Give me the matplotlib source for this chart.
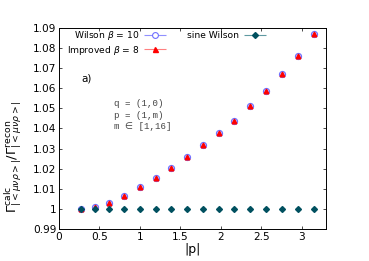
import numpy as np
import matplotlib
matplotlib.use("Agg")
import matplotlib.pyplot as plt
from matplotlib.legend_handler import HandlerErrorbar

# momenta p = (1, m), m = 1..16, on a 32 lattice
m_vals = np.arange(1, 17)
p_abs = np.pi / 16 * np.sqrt(1 + m_vals ** 2)

# ratio calc / recon
wilson = [1.0000, 1.0008, 1.0031, 1.0066, 1.0109, 1.0154, 1.0203, 1.0257,
          1.0315, 1.0376, 1.0439, 1.0510, 1.0588, 1.0669, 1.0762, 1.0868]
improved = [1.0000, 1.0008, 1.0031, 1.0066, 1.0109, 1.0154, 1.0203, 1.0257,
            1.0315, 1.0376, 1.0439, 1.0510, 1.0588, 1.0669, 1.0762, 1.0868]
sine_wilson = [1.0] * 16

fig = plt.figure(figsize=(3.69, 2.61), dpi=100)
ax = fig.add_axes([0.160, 0.123, 0.723, 0.770])

c_wil, c_wil_l = "#7070ff", "#9090ff"
c_imp, c_imp_l = "#ff0000", "#ff8080"
c_sin, c_sin_l = "#00505f", "#5f9aa2"

ax.plot(p_abs, wilson, "o", ms=4.4, mfc="#c8c8ff", mec=c_wil, mew=0.8)
ax.plot(p_abs, improved, "^", ms=3.4, color=c_imp)
ax.plot(p_abs, sine_wilson, "D", ms=3.0, color=c_sin)

# proxies for the gnuplot-like legend samples
h1 = ax.errorbar([], [], xerr=[], fmt="o", ms=4.2, mfc="white", mec=c_wil,
                 ecolor=c_wil_l, elinewidth=0.8, capsize=1.5, mew=0.8)
h2 = ax.errorbar([], [], xerr=[], fmt="^", ms=3.6, color=c_imp,
                 ecolor=c_imp_l, elinewidth=0.8, capsize=1.5)
h3 = ax.errorbar([], [], xerr=[], fmt="D", ms=3.0, color=c_sin,
                 ecolor=c_sin_l, elinewidth=0.8, capsize=1.5)
hm = {type(h1): HandlerErrorbar(xerr_size=1.2)}
leg = ax.legend([h1, h2, h3],
                [r"Wilson $\beta$ = 10", r"Improved $\beta$ = 8", "sine Wilson"],
                ncol=2, markerfirst=False, frameon=False, fontsize=6.6,
                handlelength=2.4, handletextpad=0.5, columnspacing=2.3,
                labelspacing=0.15, loc="upper left",
                bbox_to_anchor=(0.0, 1.035), handler_map=hm)

ax.text(0.085, 0.735, "a)", transform=ax.transAxes, fontsize=7.5)
ax.text(0.205, 0.645, "q = (1,0)\np = (1,m)\nm \u2208 [1,16]",
        transform=ax.transAxes, fontsize=6.6, va="top",
        family=["Liberation Mono", "DejaVu Sans"], linespacing=1.35,
        color="#444444")

ax.set_xlim(0, 3.3)
ax.set_ylim(0.99, 1.09)
ax.set_xticks([0, 0.5, 1, 1.5, 2, 2.5, 3])
ax.set_xticklabels(["0", "0.5", "1", "1.5", "2", "2.5", "3"])
ax.set_yticks(np.arange(0.99, 1.0901, 0.01))
ax.set_yticklabels(["0.99", "1", "1.01", "1.02", "1.03", "1.04", "1.05",
                    "1.06", "1.07", "1.08", "1.09"])
ax.tick_params(direction="in", top=True, right=True, length=2.5, width=0.5,
               labelsize=7.6, pad=2)
for s in ax.spines.values():
    s.set_linewidth(0.7)

ax.set_xlabel("|p|", fontsize=9, labelpad=1)
ax.set_ylabel(r"$\Gamma^{\rm calc}_{|<\mu\nu\rho>|}/\Gamma^{\rm recon}_{|<\mu\nu\rho>|}$",
              fontsize=9.5)
ax.yaxis.set_label_coords(-0.13, 0.36)

fig.savefig("out.png", dpi=100)
